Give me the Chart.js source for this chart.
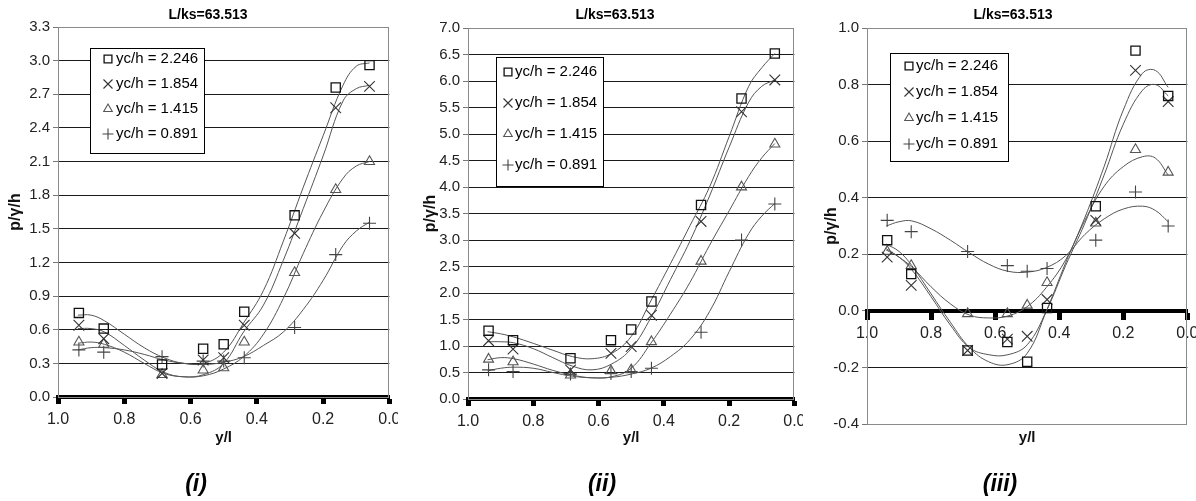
<!DOCTYPE html>
<html>
<head>
<meta charset="utf-8">
<title>Wall pressure profiles, L/ks = 63.513</title>
<script src="https://cdn.jsdelivr.net/npm/chart.js"></script>
<style>
  html, body { margin: 0; padding: 0; background: #fff; overflow: hidden; }
  body { position: relative; width: 1196px; height: 501px; }
  canvas { position: absolute; top: 0; }
  #panel1 { left: 0; }
  #panel2 { left: 400px; }
  #panel3 { left: 803px; }
</style>
</head>
<body>
<canvas id="panel1" width="398" height="501"></canvas>
<canvas id="panel2" width="403" height="501"></canvas>
<canvas id="panel3" width="393" height="501"></canvas>
<script>
const FONT = '"Liberation Sans", Arial, sans-serif';

// tap positions (y/l) shared by all three panels
const tapX = [0.937, 0.862, 0.686, 0.562, 0.5, 0.438, 0.286, 0.162, 0.06];
// positions along the fitted trend curves
const fitX = [0.94, 0.90, 0.86, 0.80, 0.74, 0.68, 0.62, 0.56, 0.50, 0.44, 0.38, 0.32, 0.26, 0.20, 0.14, 0.10, 0.06];
const seriesLabels = ['yc/h = 2.246', 'yc/h = 1.854', 'yc/h = 1.415', 'yc/h = 0.891'];
const xTicks = [1.0, 0.8, 0.6, 0.4, 0.2, 0.0];

// panel (i)
const yTicks1 = [0, 0.3, 0.6, 0.9, 1.2, 1.5, 1.8, 2.1, 2.4, 2.7, 3.0, 3.3];
const square1 = [0.75, 0.61, 0.29, 0.43, 0.47, 0.76, 1.62, 2.76, 2.96];
const cross1 = [0.64, 0.52, 0.21, 0.33, 0.35, 0.64, 1.46, 2.58, 2.77];
const triangle1 = [0.49, 0.47, 0.20, 0.24, 0.26, 0.49, 1.11, 1.85, 2.10];
const plus1 = [0.42, 0.40, 0.36, 0.32, 0.32, 0.35, 0.62, 1.27, 1.55];
const squareFit1 = [0.73, 0.73, 0.68, 0.56, 0.44, 0.35, 0.30, 0.30, 0.40, 0.66, 0.95, 1.39, 1.87, 2.33, 2.78, 2.95, 2.98];
const crossFit1 = [0.61, 0.61, 0.58, 0.46, 0.33, 0.22, 0.18, 0.20, 0.30, 0.58, 0.82, 1.22, 1.68, 2.15, 2.64, 2.75, 2.78];
const triangleFit1 = [0.48, 0.49, 0.47, 0.40, 0.30, 0.21, 0.18, 0.19, 0.25, 0.36, 0.56, 0.88, 1.28, 1.65, 1.95, 2.06, 2.10];
const plusFit1 = [0.42, 0.44, 0.44, 0.42, 0.38, 0.33, 0.30, 0.29, 0.31, 0.36, 0.46, 0.58, 0.78, 1.04, 1.35, 1.48, 1.56];

// panel (ii)
const yTicks2 = [0, 0.5, 1.0, 1.5, 2.0, 2.5, 3.0, 3.5, 4.0, 4.5, 5.0, 5.5, 6.0, 6.5, 7.0];
const square2 = [1.29, 1.11, 0.77, 1.11, 1.31, 1.84, 3.66, 5.67, 6.52];
const cross2 = [1.10, 0.94, 0.55, 0.86, 0.99, 1.58, 3.35, 5.42, 6.02];
const triangle2 = [0.75, 0.70, 0.45, 0.53, 0.55, 1.08, 2.60, 4.00, 4.81];
const plus2 = [0.55, 0.52, 0.47, 0.48, 0.52, 0.58, 1.26, 3.00, 3.68];
const squareFit2 = [1.27, 1.23, 1.17, 1.05, 0.92, 0.80, 0.76, 0.86, 1.18, 1.85, 2.55, 3.27, 4.00, 4.95, 5.90, 6.25, 6.52];
const crossFit2 = [1.08, 1.08, 1.06, 0.95, 0.78, 0.62, 0.55, 0.66, 0.95, 1.53, 2.25, 2.98, 3.83, 4.75, 5.60, 5.90, 6.02];
const triangleFit2 = [0.74, 0.78, 0.76, 0.66, 0.54, 0.45, 0.40, 0.42, 0.58, 1.05, 1.60, 2.20, 2.90, 3.55, 4.20, 4.55, 4.82];
const plusFit2 = [0.53, 0.58, 0.60, 0.58, 0.50, 0.43, 0.40, 0.41, 0.47, 0.58, 0.80, 1.12, 1.65, 2.40, 3.12, 3.45, 3.69];

// panel (iii)
const yTicks3 = [-0.4, -0.2, 0, 0.2, 0.4, 0.6, 0.8, 1.0];
const square3 = [0.25, 0.13, -0.14, -0.11, -0.18, 0.01, 0.37, 0.92, 0.76];
const cross3 = [0.19, 0.09, -0.14, -0.10, -0.09, 0.04, 0.32, 0.85, 0.74];
const triangle3 = [0.21, 0.16, -0.01, -0.01, 0.02, 0.10, 0.31, 0.57, 0.49];
const plus3 = [0.32, 0.28, 0.21, 0.16, 0.14, 0.15, 0.25, 0.42, 0.30];
const squareFit3 = [0.236, 0.21, 0.16, 0.06, -0.04, -0.13, -0.18, -0.19, -0.15, 0.0, 0.17, 0.33, 0.51, 0.71, 0.84, 0.85, 0.79];
const crossFit3 = [0.215, 0.19, 0.145, 0.05, -0.05, -0.13, -0.155, -0.155, -0.12, 0.0, 0.16, 0.31, 0.48, 0.66, 0.78, 0.80, 0.76];
const triangleFit3 = [0.22, 0.19, 0.155, 0.085, 0.025, -0.015, -0.025, -0.018, 0.015, 0.083, 0.18, 0.32, 0.44, 0.51, 0.545, 0.54, 0.48];
const plusFit3 = [0.30, 0.315, 0.318, 0.29, 0.25, 0.205, 0.165, 0.14, 0.137, 0.153, 0.195, 0.27, 0.325, 0.36, 0.37, 0.355, 0.315];

// marker look for each yc/h series, same order as seriesLabels
const markerStyles = [
    { pointStyle: 'rect', radius: 6.5, color: '#111', width: 1.3 },
    { pointStyle: 'crossRot', radius: 7.5, color: '#333', width: 1.1 },
    { pointStyle: 'triangle', radius: 5.8, color: '#555', width: 1.1 },
    { pointStyle: 'cross', radius: 6.5, color: '#444', width: 1.1 }
];

// Grey frame round the plot area
const plotFrame = {
    id: 'plotFrame',
    beforeDatasetsDraw(chart) {
        const { ctx, chartArea: a } = chart;
        ctx.save();
        ctx.strokeStyle = '#8a8a8a';
        ctx.lineWidth = 1;
        ctx.strokeRect(Math.round(a.left) + 0.5, Math.round(a.top) + 0.5,
            Math.round(a.right - a.left) - 1, Math.round(a.bottom - a.top));
        ctx.restore();
    }
};

// Boxed legend sitting inside the plot area
const boxLegend = {
    id: 'boxLegend',
    afterDatasetsDraw(chart, args, o) {
        const { ctx } = chart;
        ctx.save();
        ctx.fillStyle = '#fff';
        ctx.fillRect(o.x, o.y, o.w, o.h);
        ctx.strokeStyle = '#000';
        ctx.lineWidth = 1;
        ctx.strokeRect(o.x + 0.5, o.y + 0.5, o.w, o.h);
        ctx.font = `15px ${FONT}`;
        ctx.textBaseline = 'middle';
        seriesLabels.forEach((label, i) => {
            const m = markerStyles[i];
            const y = o.firstRow + i * o.rowGap;
            ctx.strokeStyle = m.color;
            ctx.fillStyle = 'rgba(0,0,0,0)';
            ctx.lineWidth = m.width;
            Chart.helpers.drawPoint(ctx, { pointStyle: m.pointStyle, radius: m.radius * 0.85, borderWidth: m.width, rotation: 0 }, o.markerX, y);
            ctx.fillStyle = '#000';
            ctx.fillText(label, o.textX, y);
        });
        ctx.restore();
    }
};

// Heading above the plot and the panel caption below it
const panelText = {
    id: 'panelText',
    afterDraw(chart, args, o) {
        const { ctx } = chart;
        ctx.save();
        ctx.fillStyle = '#000';
        ctx.textAlign = 'center';
        ctx.textBaseline = 'middle';
        ctx.font = `bold 14px ${FONT}`;
        ctx.fillText(o.title, o.titleX, 15);
        ctx.font = `italic bold 23px ${FONT}`;
        ctx.fillText(o.caption, o.captionX, 485);
        ctx.restore();
    }
};

const buildPanel = (id, p) => {
    const markers = p.points.map((ys, i) => ({
        label: seriesLabels[i],
        data: tapX.map((x, j) => ({ x, y: ys[j] })),
        showLine: false,
        pointStyle: markerStyles[i].pointStyle,
        pointRadius: markerStyles[i].radius,
        pointBorderColor: markerStyles[i].color,
        pointBackgroundColor: 'rgba(0,0,0,0)',
        pointBorderWidth: markerStyles[i].width
    }));
    // trend curves go after the markers so they are drawn underneath
    const curves = p.fits.map((ys, i) => ({
        label: seriesLabels[i] + ' fit',
        data: fitX.map((x, j) => ({ x, y: ys[j] })),
        showLine: true,
        pointRadius: 0,
        borderColor: '#555',
        borderWidth: 1,
        tension: 0.4,
        fill: false
    }));
    const yMin = p.yTicks[0];
    const yMax = p.yTicks[p.yTicks.length - 1];

    const ctx = document.getElementById(id).getContext('2d');
    return new Chart(ctx, {
        type: 'scatter',
        data: { datasets: markers.concat(curves) },
        options: {
            responsive: false,
            animation: false,
            devicePixelRatio: 1,
            events: [],
            layout: { padding: p.padding },
            plugins: {
                legend: { display: false },
                tooltip: { enabled: false },
                boxLegend: p.legend,
                panelText: p.text
            },
            scales: {
                x: {
                    type: 'linear',
                    reverse: true,
                    min: 0,
                    max: 1,
                    position: p.xAtZero ? { y: 0 } : 'bottom',
                    afterBuildTicks: s => { s.ticks = xTicks.map(v => ({ value: v })); },
                    afterFit: s => { s.height = p.xAxisHeight; s.paddingLeft = 0; s.paddingRight = 0; },
                    border: { display: true, color: '#000', width: 4 },
                    grid: { drawOnChartArea: false, drawTicks: true, tickLength: 7, tickWidth: 5, tickColor: '#000' },
                    ticks: {
                        padding: 6,
                        autoSkip: false,
                        maxRotation: 0,
                        color: '#222',
                        font: { family: FONT, size: 16 },
                        callback: v => v.toFixed(1)
                    },
                    title: {
                        display: true,
                        text: 'y/l',
                        color: '#111',
                        font: { family: FONT, size: 15, weight: 'bold' },
                        padding: { top: 0, bottom: 4 }
                    }
                },
                y: {
                    type: 'linear',
                    min: yMin,
                    max: yMax,
                    afterBuildTicks: s => { s.ticks = p.yTicks.map(v => ({ value: v })); },
                    afterFit: s => { s.width = p.yAxisWidth; },
                    border: { display: true, color: '#888', width: 1 },
                    grid: {
                        color: c => (c.tick && (c.tick.value === yMax || c.tick.value === yMin)) ? 'rgba(0,0,0,0)' : '#1a1a1a',
                        lineWidth: 1,
                        drawTicks: true,
                        tickLength: 5,
                        tickColor: '#777'
                    },
                    ticks: {
                        padding: 3,
                        color: '#222',
                        font: { family: FONT, size: 15 },
                        callback: v => v.toFixed(1)
                    },
                    title: {
                        display: true,
                        text: 'p/γ/h',
                        color: '#111',
                        font: { family: FONT, size: 16, weight: 'bold' },
                        padding: { top: p.yTitleGap, bottom: 0 }
                    }
                }
            }
        },
        plugins: [plotFrame, boxLegend, panelText]
    });
};

buildPanel('panel1', {
    yTicks: yTicks1,
    points: [square1, cross1, triangle1, plus1],
    fits: [squareFit1, crossFit1, triangleFit1, plusFit1],
    padding: { top: 27, right: 7, bottom: 50, left: 0 },
    yAxisWidth: 58,
    xAxisHeight: 54,
    yTitleGap: 6,
    legend: { x: 90, y: 48, w: 114, h: 105, markerX: 108, textX: 116, firstRow: 59, rowGap: 25 },
    text: { title: 'L/ks=63.513', titleX: 208, caption: '(i)', captionX: 196 }
});

buildPanel('panel2', {
    yTicks: yTicks2,
    points: [square2, cross2, triangle2, plus2],
    fits: [squareFit2, crossFit2, triangleFit2, plusFit2],
    padding: { top: 28, right: 6, bottom: 50, left: 0 },
    yAxisWidth: 68,
    xAxisHeight: 52,
    yTitleGap: 21,
    legend: { x: 96, y: 57, w: 107, h: 129, markerX: 108, textX: 115, firstRow: 72, rowGap: 31 },
    text: { title: 'L/ks=63.513', titleX: 215, caption: '(ii)', captionX: 202 }
});

buildPanel('panel3', {
    yTicks: yTicks3,
    points: [square3, cross3, triangle3, plus3],
    fits: [squareFit3, crossFit3, triangleFit3, plusFit3],
    padding: { top: 28, right: 5, bottom: 77, left: 0 },
    yAxisWidth: 64,
    xAxisHeight: 140,
    xAtZero: true,
    yTitleGap: 19,
    legend: { x: 87, y: 53, w: 118, h: 108, markerX: 106, textX: 113, firstRow: 66, rowGap: 26 },
    text: { title: 'L/ks=63.513', titleX: 210, caption: '(iii)', captionX: 197 }
});
</script>
</body>
</html>
